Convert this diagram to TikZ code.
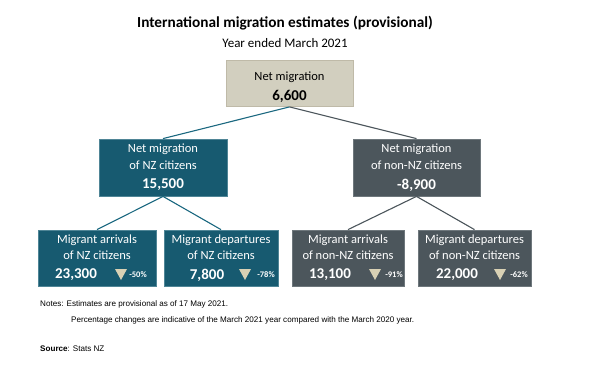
\documentclass[tikz,border=0pt]{standalone}
\usepackage{fontspec}
\setmainfont{Carlito}
\newfontfamily\notefont{Liberation Sans}
\definecolor{teal}{HTML}{175A70}
\definecolor{tealedge}{HTML}{4F8596}
\definecolor{slate}{HTML}{4C565C}
\definecolor{slateedge}{HTML}{6E777C}
\definecolor{beige}{HTML}{D2CFBF}
\definecolor{beigeedge}{HTML}{BFBAA8}
\definecolor{tri}{HTML}{D9D1B4}
\definecolor{tealline}{HTML}{1B6880}
\tikzset{
  box/.style={draw, line width=0.8pt, inner sep=0pt},
  nzbox/.style={box, fill=teal, draw=tealedge},
  othbox/.style={box, fill=slate, draw=slateedge},
  topbox/.style={box, fill=beige, draw=beigeedge},
  lbl/.style={text=white, font=\fontsize{12.5}{14}\selectfont, inner sep=0pt},
  num/.style={text=white, font=\fontsize{15}{17}\selectfont\bfseries, inner sep=0pt},
  pct/.style={text=white, font=\fontsize{8.5}{9}\selectfont\bfseries, inner sep=0pt},
  note/.style={font=\notefont\fontsize{8.1}{9}\selectfont, anchor=west, inner sep=0pt},
  link/.style={line width=1.1pt}
}
\begin{document}
\begin{tikzpicture}[x=1pt,y=-1pt]
\useasboundingbox (0,0) rectangle (600,365);
% title
\node[font=\fontsize{15.3}{17}\selectfont\bfseries, inner sep=0pt] (title) at (285,23) {International migration estimates (provisional)};
\node[font=\fontsize{13}{15}\selectfont, inner sep=0pt] (sub) at (285,43) {Year ended March 2021};
% boxes
\node[topbox, minimum width=127pt, minimum height=46pt] (top) at (289.5,83.5) {};
\node[nzbox, minimum width=128pt, minimum height=57pt] (nz) at (163,167.5) {};
\node[othbox, minimum width=127pt, minimum height=57pt] (oth) at (416.5,167.5) {};
\node[nzbox, minimum width=118pt, minimum height=56pt] (nza) at (97,258) {};
\node[nzbox, minimum width=114pt, minimum height=56pt] (nzd) at (221,258) {};
\node[othbox, minimum width=112pt, minimum height=56pt] (otha) at (348,258) {};
\node[othbox, minimum width=113pt, minimum height=56pt] (othd) at (474.5,258) {};
% connectors
\draw[link, draw=tealline] (top.south) -- (nz.north);
\draw[link, draw=slate] (top.south) -- (oth.north);
\draw[link, draw=tealline] (nz.south) -- (nza.north);
\draw[link, draw=tealline] (nz.south) -- (nzd.north);
\draw[link, draw=slate] (oth.south) -- (otha.north);
\draw[link, draw=slate] (oth.south) -- (othd.north);
% top text
\node[lbl, text=black] (topl) at (289.5,77) {Net migration};
\node[num, text=black] (topn) at (289.5,96) {6,600};
% level 2 text
\node[lbl] (nzl1) at (163,149) {Net migration};
\node[lbl] (nzl2) at (163,165) {of NZ citizens};
\node[num] (nzn) at (163,185) {15,500};
\node[lbl] (othl1) at (416.5,149) {Net migration};
\node[lbl] (othl2) at (416.5,165) {of non-NZ citizens};
\node[num] (othn) at (416.5,185) {-8,900};
% level 3 text
\node[lbl] (a1) at (97,240) {Migrant arrivals};
\node[lbl] (a2) at (97,255) {of NZ citizens};
\node[num] (an) at (76,275) {23,300};
\fill[tri] (115,269) -- (127,269) -- (121,280) -- cycle;
\node[pct] (ap) at (138,275) {-50\%};
\node[lbl] (b1) at (221,240) {Migrant departures};
\node[lbl] (b2) at (221,255) {of NZ citizens};
\node[num] (bn) at (207,275) {7,800};
\fill[tri] (239,269) -- (251,269) -- (245,280) -- cycle;
\node[pct] (bp) at (266,275) {-78\%};
\node[lbl] (c1) at (348,240) {Migrant arrivals};
\node[lbl] (c2) at (348,255) {of non-NZ citizens};
\node[num] (cn) at (330,275) {13,100};
\fill[tri] (369,269) -- (381,269) -- (375,280) -- cycle;
\node[pct] (cp) at (394,275) {-91\%};
\node[lbl] (d1) at (474.5,240) {Migrant departures};
\node[lbl] (d2) at (474.5,255) {of non-NZ citizens};
\node[num] (dn) at (457,275) {22,000};
\fill[tri] (494,269) -- (506,269) -- (500,280) -- cycle;
\node[pct] (dp) at (519,275) {-62\%};
% notes
\node[note] (n1) at (40,304) {Notes: Estimates are provisional as of 17 May 2021.};
\node[note] (n2) at (71,320) {Percentage changes are indicative of the March 2021 year compared with the March 2020 year.};
\node[note] (src) at (40,349) {\textbf{Source}: Stats NZ};
\end{tikzpicture}
\end{document}
